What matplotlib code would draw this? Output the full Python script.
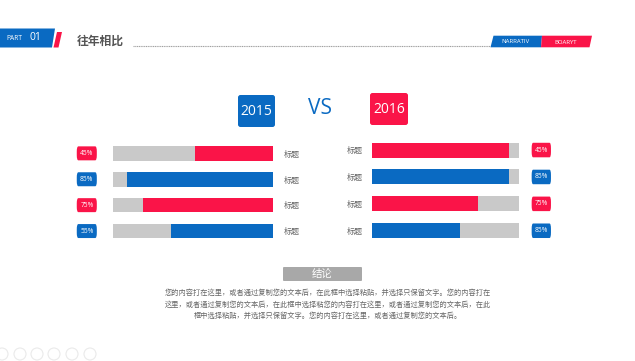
import matplotlib.pyplot as plt
from matplotlib.patches import FancyBboxPatch, Polygon, Circle
from matplotlib.transforms import blended_transform_factory

plt.rcParams['font.family'] = ['Open Sans', 'Noto Sans CJK SC', 'DejaVu Sans']

# 数据
anos = ['2015', '2016']
rotulos = ['标题', '标题', '标题', '标题']
valores_2015 = [0.49, 0.91, 0.81, 0.64]
valores_2016 = [0.93, 0.93, 0.72, 0.60]
textos_2015 = ['45%', '85%', '75%', '55%']
textos_2016 = ['45%', '85%', '75%', '85%']
conclusao = ['您的内容打在这里，或者通过复制您的文本后，在此框中选择粘贴，并选择只保留文字。您的内容打在',
             '这里，或者通过复制您的文本后，在此框中选择粘您的内容打在这里，或者通过复制您的文本后，在此',
             '框中选择粘贴，并选择只保留文字。您的内容打在这里，或者通过复制您的文本后。']

AZUL = '#0A6AC2'
VERMELHO = '#FA1448'
CINZA = '#C9C9C9'
cores = [VERMELHO, AZUL, VERMELHO, AZUL]

W, H = 635, 361
fig = plt.figure(figsize=(W / 100, H / 100), dpi=100)

# eixo de fundo em pixels
bg = fig.add_axes([0, 0, 1, 1])
bg.set_xlim(0, W)
bg.set_ylim(H, 0)
bg.axis('off')

# cabeçalho
bg.add_patch(Polygon([(0, 28.5), (55, 28.5), (52, 47.5), (0, 47.5)], color=AZUL, lw=0))
bg.add_patch(Polygon([(57, 32), (62, 32), (58.5, 47.5), (53.5, 47.5)], color=VERMELHO, lw=0))
bg.text(6, 38.5, 'PART', color='white', fontsize=4.8, va='center', ha='left')
bg.text(29, 37.5, '01', color='white', fontsize=7.5, va='center', ha='left')
bg.text(77, 41, '往年相比', color='#555555', fontsize=8.5, fontweight='bold', va='center', ha='left')
bg.plot([133, 490], [46, 46], color='#A0A0A0', lw=0.8, ls=(0, (1, 0.6)))
bg.add_patch(Polygon([(493.5, 35.7), (542, 35.7), (541, 47.3), (490.5, 47.3)], color=AZUL, lw=0))
bg.add_patch(Polygon([(542, 35.7), (592, 35.7), (589.5, 47.3), (541, 47.3)], color=VERMELHO, lw=0))
bg.text(516, 41.5, 'NARRATIV', color='white', fontsize=4.3, va='center', ha='center')
bg.text(566, 42, 'BOARYT', color='white', fontsize=4.3, va='center', ha='center')

# caixas dos anos e VS
for (x0, y0, x1, y1), ano, cor in [((238, 95, 275, 127), anos[0], AZUL), ((370, 93, 408, 125), anos[1], VERMELHO)]:
    bg.add_patch(FancyBboxPatch((x0, y0), x1 - x0, y1 - y0, boxstyle='round,pad=0,rounding_size=2.5',
                                color=cor, lw=0))
    bg.text((x0 + x1) / 2, (y0 + y1) / 2 + 0.5, ano, color='white', fontsize=10, ha='center', va='center')
bg.text(320, 108, 'VS', color=AZUL, fontsize=15, ha='center', va='center')


def barras(pos, valores, textos, x_rot, x_cx, w_cx, inverter):
    ax = fig.add_axes(pos)
    n = len(valores)
    ys = list(range(n))
    ax.barh(ys, [1] * n, height=0.56, color=CINZA, lw=0)
    ax.barh(ys, valores, height=0.56, color=cores, lw=0)
    ax.set_ylim(n - 0.5, -0.5)
    ax.set_xlim((1, 0) if inverter else (0, 1))
    ax.axis('off')
    tr = blended_transform_factory(ax.transAxes, ax.transData)
    for y, t, c, r in zip(ys, textos, cores, rotulos):
        ax.add_patch(FancyBboxPatch((x_cx, y - 0.27), w_cx, 0.54, boxstyle='round,pad=0,rounding_size=0.01',
                                    transform=tr, color=c, lw=0, clip_on=False, mutation_aspect=20))
        ax.text(x_cx + w_cx / 2, y, t, transform=tr, color='white', fontsize=4.8, ha='center', va='center')
        ax.text(x_rot, y + 0.04, r, transform=tr, color='#666666', fontsize=5.8, ha='center', va='center')
    return ax


barras([113 / W, 1 - 244 / H, 160.3 / W, 103.6 / H], valores_2015, textos_2015,
       1.113, -0.226, 0.125, True)
barras([371.7 / W, 1 - 244.2 / H, 147.3 / W, 107.6 / H], valores_2016, textos_2016,
       -0.113, 1.086, 0.131, False)

# conclusão
bg.add_patch(FancyBboxPatch((283, 267), 79, 14, boxstyle='round,pad=0,rounding_size=1', color='#A8A8A8', lw=0))
bg.text(322.5, 274, '结论', color='white', fontsize=7.5, ha='center', va='center')
for y, linha in zip([293, 305, 316.5], conclusao):
    bg.text(328, y, linha, color='#666666', fontsize=5.2, ha='center', va='center')

# ícones do rodapé
for x in [2, 20, 37, 54, 72, 90]:
    bg.add_patch(Circle((x, 354), 6, fill=False, ec='#EAEAEA', lw=0.8))

fig.savefig('out.png', dpi=100)
